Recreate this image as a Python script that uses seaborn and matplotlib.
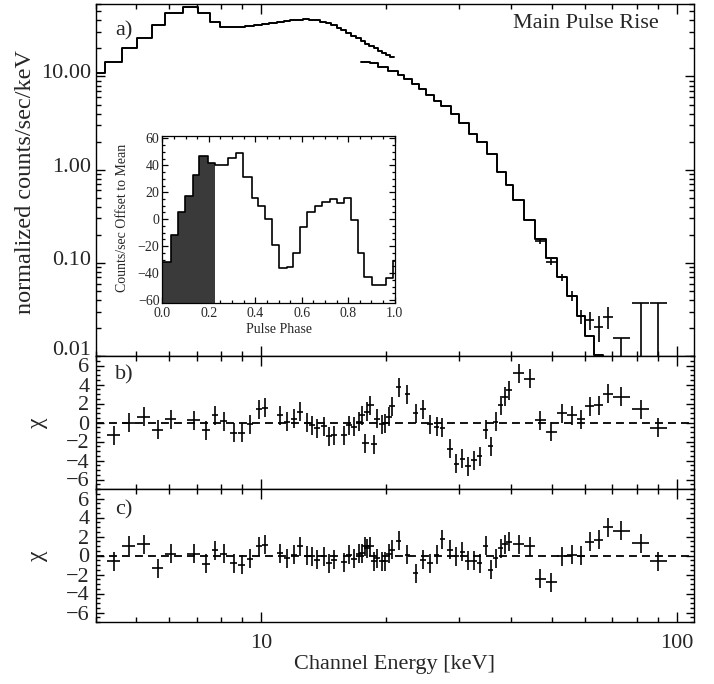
import numpy as np
import matplotlib
matplotlib.use("Agg")
import matplotlib.pyplot as plt
import matplotlib.transforms as mtransforms
import seaborn as sns
from matplotlib.ticker import FixedLocator, FuncFormatter, LogLocator, MultipleLocator, NullFormatter

# ---------------- data ----------------
# PCA model spectrum (step) : bin edges [keV] and values [counts/s/keV]
pca_edges = [3.9, 4.22, 4.63, 5.04, 5.47, 5.88, 6.50, 7.06, 7.55, 7.98, 8.77,
             9.17, 9.60, 10.05, 10.45, 10.90, 11.35, 11.75, 12.20, 12.60, 13.05,
             13.45, 13.85, 14.35, 14.75, 15.20, 15.60, 16.00, 16.45, 16.90, 17.35,
             17.80, 18.20, 18.65, 19.10, 19.55, 20.00, 20.45, 20.90]
pca_model = [11.0, 14.4, 20.3, 26.0, 35.9, 48.2, 55.8, 48.2, 38.6, 34.1,
             34.3, 35.0, 35.9, 36.8, 37.7, 38.6, 39.5, 40.2, 40.8, 41.0,
             40.8, 40.0, 38.8, 37.2, 35.3, 33.3, 31.4, 29.4, 27.4, 25.6,
             24.0, 22.5, 21.3, 20.1, 19.0, 18.0, 17.1, 16.3]

# HEXTE model spectrum (step)
hexte_edges = [17.4, 18.23, 19.06, 20.14, 21.29, 22.05, 23.1, 23.96, 24.87, 26.04,
               27.03, 28.57, 29.92, 31.62, 33.12, 35.0, 37.02, 38.76, 40.45, 42.9,
               45.6, 48.37, 51.4, 54.35, 57.45, 60.16, 63.24, 66.62, 70.1]
hexte_model = [14.2, 13.8, 12.5, 11.5, 10.5, 9.4, 8.4, 7.35, 6.34, 5.51,
               4.87, 3.97, 3.15, 2.42, 1.97, 1.48, 0.95, 0.68, 0.47, 0.286,
               0.179, 0.114, 0.0706, 0.0439, 0.0268, 0.0165, 0.0102, 0.006]

# HEXTE data points visible above the model
hx_lo = [45.6, 48.37, 51.4, 54.35, 57.45, 60.16, 63.24, 66.62]
hx_hi = [48.37, 51.4, 54.35, 57.45, 60.16, 63.24, 66.62, 70.1]
hx_val = [0.170, 0.102, 0.0706, 0.0443, 0.0268, 0.0243, 0.0205, 0.0264]
hx_err = [0.010, 0.008, 0.006, 0.005, 0.0045, 0.0053, 0.0065, 0.007]
# upper limits (bins 70-95 keV)
ul_lo = [70.1, 78.2, 86.2]
ul_hi = [77.3, 85.9, 94.5]
ul_val = [0.0156, 0.0372, 0.0372]

# residual bins
res_lo = [4.26, 4.63, 5.04, 5.47, 5.88, 6.65, 7.22, 7.63, 7.98, 8.43, 8.80,
          9.26, 9.70, 10.07, 10.94, 11.36, 11.78, 12.18, 12.68, 13.05, 13.41,
          13.91, 14.31, 14.71, 15.54, 15.98, 16.43, 16.89, 17.22, 17.53, 17.70,
          18.02, 18.36, 18.70, 19.23, 19.59, 19.95, 20.32,
          21.12, 22.13, 23.18, 24.13, 25.09, 26.03, 26.87, 28.03, 29.05, 30.02,
          30.97, 32.01, 33.05, 34.17, 35.12, 36.12, 37.13, 38.02, 38.88,
          40.45, 42.9, 45.6, 48.37, 51.4, 54.35, 57.45, 60.16, 63.24, 66.62,
          70.1, 78.2, 86.2]
res_hi = [4.58, 4.98, 5.41, 5.82, 6.25, 7.14, 7.55, 7.89, 8.30, 8.77, 9.17,
          9.58, 10.04, 10.41, 11.32, 11.74, 12.18, 12.60, 13.12, 13.49, 13.87,
          14.39, 14.79, 15.21, 16.08, 16.52, 16.99, 17.47, 17.80, 18.13, 18.30,
          18.64, 18.98, 19.34, 19.89, 20.25, 20.63, 21.02,
          21.76, 22.81, 23.88, 24.87, 25.85, 26.83, 27.69, 28.89, 29.93, 30.94,
          31.91, 32.99, 34.05, 35.21, 36.20, 37.22, 38.27, 39.18, 40.06,
          42.9, 45.6, 48.37, 51.4, 54.35, 57.45, 60.16, 63.24, 66.62, 70.1,
          77.3, 85.9, 94.5]
chi_b = [-1.33, 0.0, 0.6, -0.74, 0.35, 0.25, -0.81, 0.77, 0.14, -1.09,
         -1.09, -0.18, 1.4, 1.54, 0.77, 0.07, 0.42, 1.12, -0.04, -0.28,
         -0.63, -0.39, -1.44, -1.33, -1.33, -0.28, -0.46, 0.07, 0.77, -2.21,
         1.12, 1.82, -2.28, 0.42, -0.18, -0.1, 0.6, 1.72,
         3.7, 2.95, 0.95, 1.37, -0.18, -0.46, -0.53, -2.74, -4.32, -3.79,
         -4.6, -3.96, -3.54, -0.74, -2.49, 0.07, 1.82, 2.7, 3.4, 5.16,
         4.63, 0.25, -0.98, 0.95, 0.77, 0.35, 1.72, 1.82, 3.05, 2.7,
         1.37, -0.53]
chi_c = [-0.63, 1.02, 1.19, -1.33, 0.18, 0.18, -0.88, 0.53, 0.18, -0.81,
         -0.98, -0.35, 0.95, 1.12, 0.25, -0.28, 0.07, 0.95, 0.0, -0.1,
         -0.46, -0.1, -0.81, -0.46, -0.7, 0.07, -0.35, 0.18, 0.25, 0.95,
         0.77, 0.95, -0.63, -0.3, -0.63, -0.63, 0.18, 0.6,
         1.55, 0.07, -1.86, -0.46, -0.81, 0.07, 1.72, 0.6, -0.1, 0.42,
         -0.56, -0.56, -0.81, 1.05, -1.51, -0.28, 0.77, 1.19, 1.47, 1.19,
         0.95, -2.46, -2.84, -0.1, 0.07, 0.0, 1.47, 1.65, 2.95, 2.6,
         1.3, -0.63]

# pulse profile (inset)
phase_edges = [0.0, 0.036, 0.068, 0.099, 0.130, 0.159, 0.196, 0.225, 0.254, 0.283,
               0.319, 0.348, 0.384, 0.413, 0.442, 0.471, 0.503, 0.536, 0.562, 0.594,
               0.623, 0.659, 0.688, 0.722, 0.751, 0.783, 0.812, 0.841, 0.870, 0.901,
               0.935, 0.964, 0.993, 1.0]
profile = [-32, -12, 5, 17, 33, 47, 42, 40, 40, 45.5,
           49, 31, 16, 10, 0, -19.5, -36.5, -35.5, -25, -5.5,
           5, 9.5, 13, 15, 12, 15.5, -0.5, -25, -43, -48.5,
           -49, -44, -31]
n_shaded = 7  # bins in the selected phase interval

# ---------------- style ----------------
sns.set_style("ticks")
plt.rcParams['font.family'] = ['Liberation Serif', 'DejaVu Serif']
plt.rcParams['axes.unicode_minus'] = True
plt.rcParams['axes.linewidth'] = 1.0

W, H = 714, 684
fig = plt.figure(figsize=(W / 100, H / 100), dpi=100)


def rect(x0, y0, x1, y1):
    return [x0 / W, 1 - y1 / H, (x1 - x0) / W, (y1 - y0) / H]


def fx(px):
    return px / W


def fy(py):
    return 1 - py / H


axa = fig.add_axes(rect(95.7, 4, 694, 356))
axb = fig.add_axes(rect(95.7, 356, 694, 489))
axc = fig.add_axes(rect(95.7, 489, 694, 622))


def steps(ax, edges, vals, lw=1.4):
    x = np.asarray(edges, float)
    y = np.append(np.asarray(vals, float), vals[-1])
    sns.lineplot(x=x, y=y, ax=ax, drawstyle='steps-post', estimator=None,
                 sort=False, color='black', lw=lw)


# panel a
steps(axa, pca_edges, pca_model)
steps(axa, hexte_edges, hexte_model)
lo = np.array(hx_lo); hi = np.array(hx_hi); c = np.sqrt(lo * hi)
axa.errorbar(c, hx_val, xerr=[c - lo, hi - c], yerr=hx_err, fmt='none',
             ecolor='black', elinewidth=1.2, capsize=0)
lo = np.array(ul_lo); hi = np.array(ul_hi); c = np.sqrt(lo * hi); v = np.array(ul_val)
axa.hlines(v, lo, hi, color='black', lw=1.2)
axa.errorbar(c, v, yerr=[v - 1e-4, np.zeros_like(v)], fmt='none',
             ecolor='black', elinewidth=1.2, capsize=0)

axa.set_xscale('log')
axa.set_yscale('log')
axa.set_xlim(4.0, 110)
axa.set_ylim(0.01, 60)
axa.yaxis.set_major_locator(FixedLocator([0.01, 0.1, 1, 10]))
axa.yaxis.set_major_formatter(FuncFormatter(lambda v, p: f"{v:.2f}"))
axa.yaxis.set_minor_locator(LogLocator(base=10, subs=np.arange(2, 10)))
axa.yaxis.set_minor_formatter(NullFormatter())

# residual panels
rlo = np.array(res_lo); rhi = np.array(res_hi); rc = np.sqrt(rlo * rhi)
for ax, chi in ((axb, chi_b), (axc, chi_c)):
    ax.axhline(0, color='black', lw=1.3, ls=(0, (4.4, 2.8)))
    ax.errorbar(rc, chi, xerr=[rc - rlo, rhi - rc], yerr=1.0, fmt='none',
                ecolor='black', elinewidth=1.2, capsize=0)
    ax.set_xscale('log')
    ax.set_xlim(4.0, 110)
    ax.set_ylim(-7, 7)
    ax.yaxis.set_major_locator(MultipleLocator(2))
    ax.yaxis.set_minor_locator(MultipleLocator(0.5))
    ax.yaxis.set_major_formatter(FuncFormatter(lambda v, p: f"{int(round(v))}".replace('-', '\u2212')))
    ax.tick_params(axis='y', which='major', labelsize=16, pad=4.5, length=6, width=1.0)
    ax.tick_params(axis='y', which='minor', length=3, width=1.0)

for ax in (axa, axb, axc):
    ax.xaxis.set_major_locator(FixedLocator([10, 100]))
    ax.xaxis.set_minor_locator(LogLocator(base=10, subs=np.arange(2, 10)))
    ax.xaxis.set_minor_formatter(NullFormatter())
    ax.tick_params(which='both', direction='in', top=True, right=True, color='black')
    ax.tick_params(axis='x', which='major', length=7, width=1.0)
    ax.tick_params(axis='x', which='minor', length=3.5, width=1.0)
    ax.set_xlabel('')
    ax.set_ylabel('')
    for s in ax.spines.values():
        s.set_color('black')
        s.set_linewidth(1.0)

axa.tick_params(axis='y', which='major', length=6.5, width=1.0, labelsize=16, pad=3.5)
axa.tick_params(axis='y', which='minor', length=3.5, width=1.0)
axa.tick_params(axis='x', labelbottom=False)
axb.tick_params(axis='x', labelbottom=False)
axc.xaxis.set_major_formatter(FuncFormatter(lambda v, p: f"{v:g}"))
axc.tick_params(axis='x', labelsize=16, pad=9)

# IDL-style placement: main-panel y labels sit a little above their ticks
fig.canvas.draw()
for lab in axa.get_yticklabels():
    up = 8 if lab.get_text() == '0.01' else 5
    lab.set_transform(lab.get_transform() +
                      mtransforms.ScaledTranslation(0, up / 100, fig.dpi_scale_trans))

# inset pulse profile
axi = fig.add_axes(rect(162.3, 135.7, 394.7, 302.7))
axi.set_facecolor('white')
axi.stairs(profile[:n_shaded], phase_edges[:n_shaded + 1], baseline=-62, fill=True,
           color='#3a3a3a', lw=0)
steps(axi, phase_edges, profile, lw=1.2)
axi.set_xlim(0, 1)
axi.set_ylim(-62, 62)
axi.xaxis.set_major_locator(MultipleLocator(0.2))
axi.xaxis.set_minor_locator(MultipleLocator(0.05))
axi.yaxis.set_major_locator(MultipleLocator(20))
axi.yaxis.set_minor_locator(MultipleLocator(5))
axi.xaxis.set_major_formatter(FuncFormatter(lambda v, p: f"{v:.1f}"))
axi.yaxis.set_major_formatter(FuncFormatter(lambda v, p: f"{int(round(v))}".replace('-', '\u2212')))
axi.tick_params(which='both', direction='in', top=True, right=True, labelsize=10, color='black')
axi.tick_params(which='major', length=4, width=0.9)
axi.tick_params(which='minor', length=2, width=0.9)
axi.tick_params(axis='x', pad=3)
axi.tick_params(axis='y', pad=2)
axi.set_xlabel('')
axi.set_ylabel('')
for s in axi.spines.values():
    s.set_color('black')
    s.set_linewidth(0.9)

# texts
fs = 16
fig.text(fx(25.5), fy(182), 'normalized counts/sec/keV', rotation=90, ha='center', va='center', fontsize=17.5)
fig.text(fx(38), fy(422.5), '\u03c7', rotation=90, ha='center', va='center', fontsize=17)
fig.text(fx(38), fy(555.5), '\u03c7', rotation=90, ha='center', va='center', fontsize=17)
fig.text(fx(395), fy(664), 'Channel Energy [keV]', ha='center', va='center', fontsize=fs)
fig.text(fx(115), fy(31), 'a)', ha='left', va='center', fontsize=fs)
fig.text(fx(115), fy(375), 'b)', ha='left', va='center', fontsize=fs)
fig.text(fx(115), fy(510), 'c)', ha='left', va='center', fontsize=fs)
fig.text(fx(659), fy(23), 'Main Pulse Rise', ha='right', va='center', fontsize=fs)
fig.text(fx(278.5), fy(330), 'Pulse Phase', ha='center', va='center', fontsize=10)
fig.text(fx(123), fy(218), 'Counts/sec Offset to Mean', rotation=90, ha='center', va='center', fontsize=10)

fig.savefig('out.png', dpi=100)
